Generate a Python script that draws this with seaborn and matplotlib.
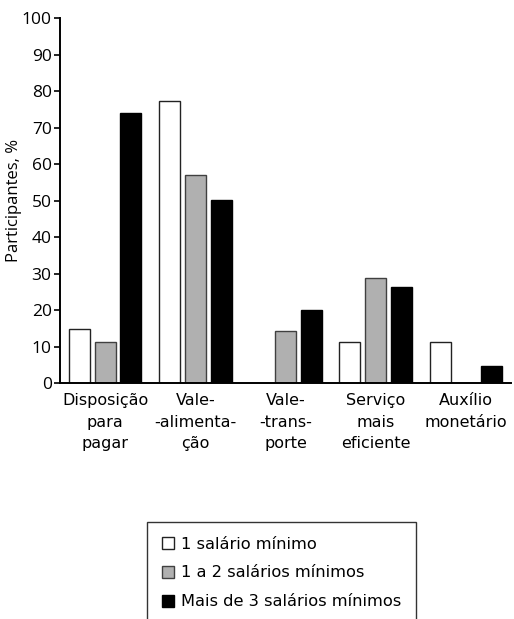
import pandas as pd
import seaborn as sns
import matplotlib.pyplot as plt

categories = ['Disposição\npara\npagar', 'Vale-\n-alimenta-\nção', 'Vale-\n-trans-\nporte',
              'Serviço\nmais\neficiente', 'Auxílio\nmonetário']
groups = ['1 salário mínimo', '1 a 2 salários mínimos', 'Mais de 3 salários mínimos']
sal_1 = [14.8, 77.4, 0, 11.3, 11.3]
sal_1_2 = [11.2, 56.9, 14.3, 28.7, 0]
sal_3 = [74.1, 50.1, 19.9, 26.2, 4.7]
colors = ['white', '#b0b0b0', 'black']
edges = ['#222222', '#404040', 'black']

df = pd.DataFrame({
    'cat': categories * 3,
    'group': [groups[0]] * 5 + [groups[1]] * 5 + [groups[2]] * 5,
    'value': sal_1 + sal_1_2 + sal_3,
})

sns.set_style('ticks')
plt.rcParams['font.family'] = ['DejaVu Sans']
plt.rcParams['text.color'] = 'black'
plt.rcParams['axes.labelcolor'] = 'black'
plt.rcParams['xtick.color'] = 'black'
plt.rcParams['ytick.color'] = 'black'

fig = plt.figure(figsize=(5.14, 6.19), dpi=100)
ax = fig.add_axes([60 / 514, 1 - 383 / 619, 451 / 514, (383 - 18.3) / 619])

sns.barplot(data=df, x='cat', y='value', hue='group', order=categories,
            hue_order=groups, palette=colors, width=0.86, gap=0.19,
            saturation=1, ax=ax, legend=True)

for cont, ec in zip(ax.containers, edges):
    for bar in cont:
        bar.set_edgecolor(ec)
        bar.set_linewidth(1.0)

ax.set_xlim(-0.5, 4.5)
ax.set_ylim(0, 100)
ax.set_yticks(range(0, 101, 10))
ax.set_xlabel('')
ax.set_ylabel('Participantes, %', fontsize=12, family='Open Sans', labelpad=0)
ax.tick_params(axis='y', length=4, width=1.2, labelsize=12.5, pad=2)
for lab in ax.get_yticklabels():
    lab.set_family('Open Sans')
ax.tick_params(axis='x', length=0, labelsize=11.5, pad=7.5)
for lab in ax.get_xticklabels():
    lab.set_linespacing(1.53)
sns.despine(ax=ax)
for side in ('left', 'bottom'):
    ax.spines[side].set_linewidth(1.4)
    ax.spines[side].set_color('black')

handles, labels = ax.get_legend_handles_labels()
ax.get_legend().remove()
for h, ec in zip(handles, edges):
    h.set_edgecolor(ec)
    h.set_linewidth(1.0)
leg = fig.legend(handles, labels, loc='upper left',
                 bbox_to_anchor=(147 / 514, 1 - 522 / 619),
                 frameon=True, fancybox=False, fontsize=11.7,
                 handlelength=0.75, handleheight=0.75, handletextpad=0.45,
                 labelspacing=0.85, borderpad=0.9, borderaxespad=0)
leg.get_frame().set_edgecolor('black')
leg.get_frame().set_linewidth(1.0)

fig.savefig('out.png', dpi=100)
